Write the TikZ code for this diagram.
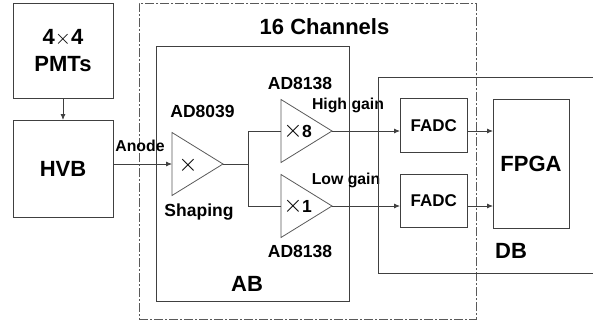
\documentclass[tikz,border=0pt]{standalone}
\usepackage{fontspec}
\setmainfont{Liberation Sans}
\usetikzlibrary{shapes.geometric,arrows.meta}
\tikzset{
  blockbox/.style={draw=black!75,line width=0.9pt,inner sep=0pt,outer sep=0pt,font=\fontsize{22}{27}\selectfont\bfseries,align=center},
  adcbox/.style={blockbox,minimum width=67.5pt,minimum height=53.5pt,font=\fontsize{17}{20}\selectfont\bfseries},
  ampbox/.style={draw=black!65,line width=0.8pt,isosceles triangle,isosceles triangle stretches,
    minimum height=51pt,minimum width=63pt,inner sep=0pt,outer sep=0pt},
  bigtext/.style={inner sep=0pt,font=\fontsize{22}{27}\selectfont\bfseries},
  midtext/.style={inner sep=0pt,font=\fontsize{17.5}{21}\selectfont\bfseries},
  smalltext/.style={inner sep=0pt,font=\fontsize{15.8}{19}\selectfont\bfseries},
  gaintext/.style={inner sep=0pt,font=\fontsize{26}{30}\selectfont},
  sigline/.style={draw=black!75,line width=0.8pt},
  sigarrow/.style={sigline,-{Latex[length=6pt,width=5pt]}}
}
\begin{document}
\begin{tikzpicture}[x=1pt,y=-1pt]
      \useasboundingbox (0,0) rectangle (593,321);
      % boxes
      \node[blockbox,minimum width=100pt,minimum height=95pt] (pmt) at (63,50.5) {4$\times$4\\PMTs};
      \node[blockbox,minimum width=100pt,minimum height=97pt] (hvb) at (63,168.5) {HVB};
      \node[draw=black!65,dash pattern=on 9pt off 2pt on 2pt off 2pt,line width=0.8pt,minimum width=337pt,minimum height=316pt,inner sep=0pt] (channels) at (307.5,161) {};
      \node[blockbox,minimum width=193.5pt,minimum height=255pt] (ab) at (252.75,173.5) {};
      \node[adcbox] (fadchigh) at (433.75,125.5) {FADC};
      \node[adcbox] (fadclow) at (433.75,201) {FADC};
      \node[blockbox,minimum width=76pt,minimum height=129pt] (fpga) at (531,163.5) {FPGA};
      % amplifiers
      \node[ampbox,anchor=apex] (shaper) at (223,164) {};
      \node[ampbox,anchor=apex] (amphigh) at (332,131) {};
      \node[ampbox,anchor=apex] (amplow) at (332,206) {};
      % texts
      \node[bigtext] (channelstext) at (324.5,27) {16 Channels};
      \node[bigtext] (abtext) at (247,284) {AB};
      \node[bigtext] (dbtext) at (511,251) {DB};
      \node[midtext] (shapertop) at (202.5,111) {AD8039};
      \node[midtext] (shaperbottom) at (199,212) {Shaping};
      \node[midtext] (amphightop) at (300,83.5) {AD8138};
      \node[midtext] (amplowbottom) at (300,251) {AD8138};
      \node[smalltext] (anode) at (140,146) {Anode};
      \node[smalltext] (hightext) at (348,105) {High gain};
      \node[smalltext] (lowtext) at (346,180) {Low gain};
      \node[gaintext] (shapergain) at (188,165) {$\times$};
      \node[gaintext] (highgain) at (293,131) {$\times$};
      \node[gaintext] (lowgain) at (293,206) {$\times$};
      \node[midtext] (higheight) at (307,131) {8};
      \node[midtext] (lowone) at (307,206) {1};
      % daughter board, right side is cut off
      \coordinate (dbtopleft) at (378,77.5);
      \coordinate (dbtopright) at (593,77.5);
      \coordinate (dbbottomleft) at (378,273.5);
      \coordinate (dbbottomright) at (593,273.5);
      \draw[sigline,line width=0.9pt] (dbtopright) -- (dbtopleft) -- (dbbottomleft) -- (dbbottomright);
      % connectors
      \coordinate (split) at (248.5,164);
      \begin{scope}[sigarrow]
        \draw (pmt) -- (hvb);
        \draw (hvb.east |- shaper.west) -- (shaper.west);
        \draw (amphigh.apex) -- (amphigh.apex -| fadchigh.west);
        \draw (amplow.apex) -- (amplow.apex -| fadclow.west);
        \draw (fadchigh.east |- amphigh.apex) -- (fpga.west |- amphigh.apex);
        \draw (fadclow.east |- amplow.apex) -- (fpga.west |- amplow.apex);
      \end{scope}
      \begin{scope}[sigline]
        \draw (shaper.apex) -- (split);
        \draw (amphigh.west) -| (split);
        \draw (amplow.west) -| (split);
      \end{scope}
    \end{tikzpicture}
\end{document}
